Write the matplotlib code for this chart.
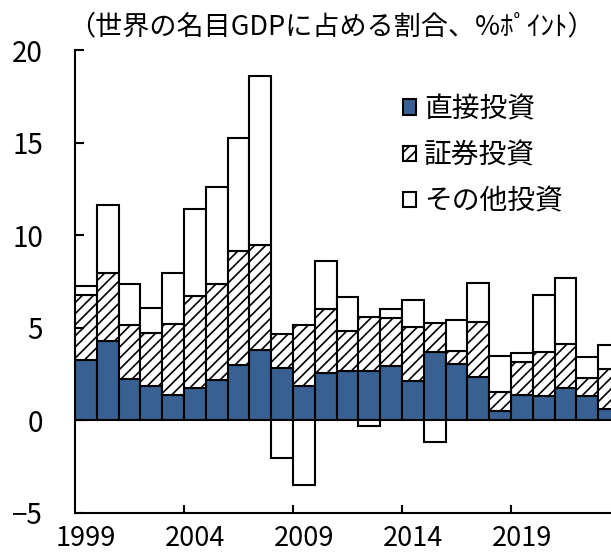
import numpy as np
import matplotlib
matplotlib.use("Agg")
import matplotlib.pyplot as plt

plt.rcParams['font.family'] = ['Noto Sans CJK JP', 'DejaVu Sans']
plt.rcParams['hatch.linewidth'] = 1.2

years = np.arange(1999, 2024)

# 世界の名目GDPに占める割合 (%ポイント)
direct = [3.26, 4.26, 2.23, 1.87, 1.38, 1.74, 2.17, 2.99, 3.77, 2.83,
          1.87, 2.55, 2.66, 2.66, 2.93, 2.12, 3.66, 3.06, 2.34, 0.49,
          1.34, 1.29, 1.76, 1.29, 0.58]
portfolio = [3.50, 3.71, 2.90, 2.86, 3.84, 4.96, 5.20, 6.16, 5.70, 1.84,
             3.26, 3.43, 2.18, 2.90, 2.60, 2.93, 1.58, 0.65, 2.99, 1.03,
             1.78, 2.37, 2.35, 0.97, 2.17]
other = [0.49, 3.64, 2.21, 1.34, 2.75, 4.73, 5.22, 6.12, 9.15, -2.04,
         -3.52, 2.61, 1.81, -0.30, 0.47, 1.42, -1.18, 1.72, 2.10, 1.92,
         0.50, 3.12, 3.59, 1.16, 1.33]

xtick_years = [1999, 2004, 2009, 2014, 2019]
labels = ['直接投資', '証券投資', 'その他投資']

direct = np.array(direct)
portfolio = np.array(portfolio)
other = np.array(other)
other_bottom = np.where(other >= 0, direct + portfolio, 0)

fig = plt.figure(figsize=(6.11, 5.57), dpi=100)
ax = fig.add_axes([75 / 611, 44.3 / 557, 536 / 611, 462.7 / 557])

bar_kw = dict(width=1.0, edgecolor='black', linewidth=1.5)
ax.bar(years, direct, color='#386192', label=labels[0], **bar_kw)
ax.bar(years, portfolio, bottom=direct, color='white', hatch='///',
       label=labels[1], **bar_kw)
ax.bar(years, other, bottom=other_bottom, color='white', label=labels[2],
       **bar_kw)

ax.set_xlim(1998.5, 1998.5 + 536 / 21.8)
ax.set_ylim(-5, 20)
ax.set_yticks([-5, 0, 5, 10, 15, 20])
ax.set_xticks(xtick_years)
ax.set_xticks([2003.5, 2008.5, 2013.5, 2018.5], minor=True)

ax.tick_params(axis='y', direction='in', length=6.5, width=1.5, pad=23,
               labelsize=20)
ax.tick_params(axis='x', which='major', length=0, pad=9, labelsize=19.5)
ax.tick_params(axis='x', which='minor', direction='in', length=6, width=1.5)

for side in ['top', 'right']:
    ax.spines[side].set_visible(False)
for side in ['left', 'bottom']:
    ax.spines[side].set_linewidth(1.5)

ax.legend(loc='upper left', bbox_to_anchor=(403 / 611, 1 - 94 / 557),
          bbox_transform=fig.transFigure, frameon=False, fontsize=20,
          handlelength=0.47, handleheight=0.47, handletextpad=0.3,
          borderpad=0, borderaxespad=0, labelspacing=0.58)

fig.text(68 / 611, 1 - 27 / 557, '（世界の名目GDPに占める割合、%ﾎﾟｲﾝﾄ）',
         fontsize=19.5, ha='left', va='center')

fig.savefig('out.png', dpi=100)
